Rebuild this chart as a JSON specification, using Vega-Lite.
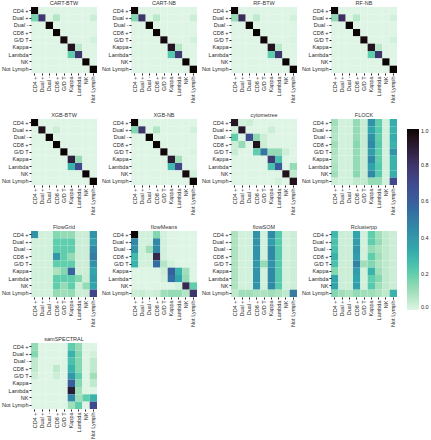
{
"$schema":"https://vega.github.io/schema/vega-lite/v6.json",
"padding":{"left":1,"top":0,"right":0,"bottom":0},
"background":"white",
"data":{"values":[
{"m":"CART-BTW","t":"CD4 +","p":"CD4 +","v":1},{"m":"CART-BTW","t":"CD4 +","p":"Dual +","v":0},{"m":"CART-BTW","t":"CD4 +","p":"Dual -","v":0},{"m":"CART-BTW","t":"CD4 +","p":"CD8 +","v":0},{"m":"CART-BTW","t":"CD4 +","p":"G/D T","v":0},{"m":"CART-BTW","t":"CD4 +","p":"Kappa","v":0},{"m":"CART-BTW","t":"CD4 +","p":"Lambda","v":0},{"m":"CART-BTW","t":"CD4 +","p":"NK","v":0},{"m":"CART-BTW","t":"CD4 +","p":"Not Lymph","v":0},
{"m":"CART-BTW","t":"Dual +","p":"CD4 +","v":0.17},{"m":"CART-BTW","t":"Dual +","p":"Dual +","v":0.78},{"m":"CART-BTW","t":"Dual +","p":"Dual -","v":0},{"m":"CART-BTW","t":"Dual +","p":"CD8 +","v":0.07},{"m":"CART-BTW","t":"Dual +","p":"G/D T","v":0},{"m":"CART-BTW","t":"Dual +","p":"Kappa","v":0},{"m":"CART-BTW","t":"Dual +","p":"Lambda","v":0},{"m":"CART-BTW","t":"Dual +","p":"NK","v":0},{"m":"CART-BTW","t":"Dual +","p":"Not Lymph","v":0.03},
{"m":"CART-BTW","t":"Dual -","p":"CD4 +","v":0},{"m":"CART-BTW","t":"Dual -","p":"Dual +","v":0},{"m":"CART-BTW","t":"Dual -","p":"Dual -","v":1},{"m":"CART-BTW","t":"Dual -","p":"CD8 +","v":0},{"m":"CART-BTW","t":"Dual -","p":"G/D T","v":0},{"m":"CART-BTW","t":"Dual -","p":"Kappa","v":0},{"m":"CART-BTW","t":"Dual -","p":"Lambda","v":0},{"m":"CART-BTW","t":"Dual -","p":"NK","v":0},{"m":"CART-BTW","t":"Dual -","p":"Not Lymph","v":0},
{"m":"CART-BTW","t":"CD8 +","p":"CD4 +","v":0},{"m":"CART-BTW","t":"CD8 +","p":"Dual +","v":0},{"m":"CART-BTW","t":"CD8 +","p":"Dual -","v":0},{"m":"CART-BTW","t":"CD8 +","p":"CD8 +","v":1},{"m":"CART-BTW","t":"CD8 +","p":"G/D T","v":0},{"m":"CART-BTW","t":"CD8 +","p":"Kappa","v":0},{"m":"CART-BTW","t":"CD8 +","p":"Lambda","v":0},{"m":"CART-BTW","t":"CD8 +","p":"NK","v":0},{"m":"CART-BTW","t":"CD8 +","p":"Not Lymph","v":0},
{"m":"CART-BTW","t":"G/D T","p":"CD4 +","v":0},{"m":"CART-BTW","t":"G/D T","p":"Dual +","v":0},{"m":"CART-BTW","t":"G/D T","p":"Dual -","v":0},{"m":"CART-BTW","t":"G/D T","p":"CD8 +","v":0},{"m":"CART-BTW","t":"G/D T","p":"G/D T","v":0.98},{"m":"CART-BTW","t":"G/D T","p":"Kappa","v":0},{"m":"CART-BTW","t":"G/D T","p":"Lambda","v":0},{"m":"CART-BTW","t":"G/D T","p":"NK","v":0},{"m":"CART-BTW","t":"G/D T","p":"Not Lymph","v":0.02},
{"m":"CART-BTW","t":"Kappa","p":"CD4 +","v":0},{"m":"CART-BTW","t":"Kappa","p":"Dual +","v":0},{"m":"CART-BTW","t":"Kappa","p":"Dual -","v":0},{"m":"CART-BTW","t":"Kappa","p":"CD8 +","v":0},{"m":"CART-BTW","t":"Kappa","p":"G/D T","v":0},{"m":"CART-BTW","t":"Kappa","p":"Kappa","v":0.94},{"m":"CART-BTW","t":"Kappa","p":"Lambda","v":0.06},{"m":"CART-BTW","t":"Kappa","p":"NK","v":0},{"m":"CART-BTW","t":"Kappa","p":"Not Lymph","v":0},
{"m":"CART-BTW","t":"Lambda","p":"CD4 +","v":0},{"m":"CART-BTW","t":"Lambda","p":"Dual +","v":0},{"m":"CART-BTW","t":"Lambda","p":"Dual -","v":0},{"m":"CART-BTW","t":"Lambda","p":"CD8 +","v":0},{"m":"CART-BTW","t":"Lambda","p":"G/D T","v":0},{"m":"CART-BTW","t":"Lambda","p":"Kappa","v":0.2},{"m":"CART-BTW","t":"Lambda","p":"Lambda","v":0.8},{"m":"CART-BTW","t":"Lambda","p":"NK","v":0},{"m":"CART-BTW","t":"Lambda","p":"Not Lymph","v":0},
{"m":"CART-BTW","t":"NK","p":"CD4 +","v":0},{"m":"CART-BTW","t":"NK","p":"Dual +","v":0},{"m":"CART-BTW","t":"NK","p":"Dual -","v":0},{"m":"CART-BTW","t":"NK","p":"CD8 +","v":0},{"m":"CART-BTW","t":"NK","p":"G/D T","v":0},{"m":"CART-BTW","t":"NK","p":"Kappa","v":0},{"m":"CART-BTW","t":"NK","p":"Lambda","v":0},{"m":"CART-BTW","t":"NK","p":"NK","v":1},{"m":"CART-BTW","t":"NK","p":"Not Lymph","v":0},
{"m":"CART-BTW","t":"Not Lymph","p":"CD4 +","v":0},{"m":"CART-BTW","t":"Not Lymph","p":"Dual +","v":0},{"m":"CART-BTW","t":"Not Lymph","p":"Dual -","v":0},{"m":"CART-BTW","t":"Not Lymph","p":"CD8 +","v":0},{"m":"CART-BTW","t":"Not Lymph","p":"G/D T","v":0},{"m":"CART-BTW","t":"Not Lymph","p":"Kappa","v":0},{"m":"CART-BTW","t":"Not Lymph","p":"Lambda","v":0},{"m":"CART-BTW","t":"Not Lymph","p":"NK","v":0},{"m":"CART-BTW","t":"Not Lymph","p":"Not Lymph","v":1},

{"m":"CART-NB","t":"CD4 +","p":"CD4 +","v":1},{"m":"CART-NB","t":"CD4 +","p":"Dual +","v":0},{"m":"CART-NB","t":"CD4 +","p":"Dual -","v":0},{"m":"CART-NB","t":"CD4 +","p":"CD8 +","v":0},{"m":"CART-NB","t":"CD4 +","p":"G/D T","v":0},{"m":"CART-NB","t":"CD4 +","p":"Kappa","v":0},{"m":"CART-NB","t":"CD4 +","p":"Lambda","v":0},{"m":"CART-NB","t":"CD4 +","p":"NK","v":0},{"m":"CART-NB","t":"CD4 +","p":"Not Lymph","v":0},
{"m":"CART-NB","t":"Dual +","p":"CD4 +","v":0.15},{"m":"CART-NB","t":"Dual +","p":"Dual +","v":0.8},{"m":"CART-NB","t":"Dual +","p":"Dual -","v":0},{"m":"CART-NB","t":"Dual +","p":"CD8 +","v":0.06},{"m":"CART-NB","t":"Dual +","p":"G/D T","v":0},{"m":"CART-NB","t":"Dual +","p":"Kappa","v":0},{"m":"CART-NB","t":"Dual +","p":"Lambda","v":0},{"m":"CART-NB","t":"Dual +","p":"NK","v":0},{"m":"CART-NB","t":"Dual +","p":"Not Lymph","v":0.03},
{"m":"CART-NB","t":"Dual -","p":"CD4 +","v":0},{"m":"CART-NB","t":"Dual -","p":"Dual +","v":0},{"m":"CART-NB","t":"Dual -","p":"Dual -","v":1},{"m":"CART-NB","t":"Dual -","p":"CD8 +","v":0},{"m":"CART-NB","t":"Dual -","p":"G/D T","v":0},{"m":"CART-NB","t":"Dual -","p":"Kappa","v":0},{"m":"CART-NB","t":"Dual -","p":"Lambda","v":0},{"m":"CART-NB","t":"Dual -","p":"NK","v":0},{"m":"CART-NB","t":"Dual -","p":"Not Lymph","v":0},
{"m":"CART-NB","t":"CD8 +","p":"CD4 +","v":0},{"m":"CART-NB","t":"CD8 +","p":"Dual +","v":0},{"m":"CART-NB","t":"CD8 +","p":"Dual -","v":0},{"m":"CART-NB","t":"CD8 +","p":"CD8 +","v":1},{"m":"CART-NB","t":"CD8 +","p":"G/D T","v":0},{"m":"CART-NB","t":"CD8 +","p":"Kappa","v":0},{"m":"CART-NB","t":"CD8 +","p":"Lambda","v":0},{"m":"CART-NB","t":"CD8 +","p":"NK","v":0},{"m":"CART-NB","t":"CD8 +","p":"Not Lymph","v":0},
{"m":"CART-NB","t":"G/D T","p":"CD4 +","v":0},{"m":"CART-NB","t":"G/D T","p":"Dual +","v":0},{"m":"CART-NB","t":"G/D T","p":"Dual -","v":0},{"m":"CART-NB","t":"G/D T","p":"CD8 +","v":0},{"m":"CART-NB","t":"G/D T","p":"G/D T","v":0.98},{"m":"CART-NB","t":"G/D T","p":"Kappa","v":0},{"m":"CART-NB","t":"G/D T","p":"Lambda","v":0},{"m":"CART-NB","t":"G/D T","p":"NK","v":0},{"m":"CART-NB","t":"G/D T","p":"Not Lymph","v":0.02},
{"m":"CART-NB","t":"Kappa","p":"CD4 +","v":0},{"m":"CART-NB","t":"Kappa","p":"Dual +","v":0},{"m":"CART-NB","t":"Kappa","p":"Dual -","v":0},{"m":"CART-NB","t":"Kappa","p":"CD8 +","v":0},{"m":"CART-NB","t":"Kappa","p":"G/D T","v":0},{"m":"CART-NB","t":"Kappa","p":"Kappa","v":0.93},{"m":"CART-NB","t":"Kappa","p":"Lambda","v":0.07},{"m":"CART-NB","t":"Kappa","p":"NK","v":0},{"m":"CART-NB","t":"Kappa","p":"Not Lymph","v":0},
{"m":"CART-NB","t":"Lambda","p":"CD4 +","v":0},{"m":"CART-NB","t":"Lambda","p":"Dual +","v":0},{"m":"CART-NB","t":"Lambda","p":"Dual -","v":0},{"m":"CART-NB","t":"Lambda","p":"CD8 +","v":0},{"m":"CART-NB","t":"Lambda","p":"G/D T","v":0},{"m":"CART-NB","t":"Lambda","p":"Kappa","v":0.22},{"m":"CART-NB","t":"Lambda","p":"Lambda","v":0.78},{"m":"CART-NB","t":"Lambda","p":"NK","v":0},{"m":"CART-NB","t":"Lambda","p":"Not Lymph","v":0},
{"m":"CART-NB","t":"NK","p":"CD4 +","v":0},{"m":"CART-NB","t":"NK","p":"Dual +","v":0},{"m":"CART-NB","t":"NK","p":"Dual -","v":0},{"m":"CART-NB","t":"NK","p":"CD8 +","v":0},{"m":"CART-NB","t":"NK","p":"G/D T","v":0},{"m":"CART-NB","t":"NK","p":"Kappa","v":0},{"m":"CART-NB","t":"NK","p":"Lambda","v":0},{"m":"CART-NB","t":"NK","p":"NK","v":1},{"m":"CART-NB","t":"NK","p":"Not Lymph","v":0},
{"m":"CART-NB","t":"Not Lymph","p":"CD4 +","v":0},{"m":"CART-NB","t":"Not Lymph","p":"Dual +","v":0},{"m":"CART-NB","t":"Not Lymph","p":"Dual -","v":0},{"m":"CART-NB","t":"Not Lymph","p":"CD8 +","v":0},{"m":"CART-NB","t":"Not Lymph","p":"G/D T","v":0},{"m":"CART-NB","t":"Not Lymph","p":"Kappa","v":0},{"m":"CART-NB","t":"Not Lymph","p":"Lambda","v":0},{"m":"CART-NB","t":"Not Lymph","p":"NK","v":0},{"m":"CART-NB","t":"Not Lymph","p":"Not Lymph","v":1},

{"m":"RF-BTW","t":"CD4 +","p":"CD4 +","v":1},{"m":"RF-BTW","t":"CD4 +","p":"Dual +","v":0},{"m":"RF-BTW","t":"CD4 +","p":"Dual -","v":0},{"m":"RF-BTW","t":"CD4 +","p":"CD8 +","v":0},{"m":"RF-BTW","t":"CD4 +","p":"G/D T","v":0},{"m":"RF-BTW","t":"CD4 +","p":"Kappa","v":0},{"m":"RF-BTW","t":"CD4 +","p":"Lambda","v":0},{"m":"RF-BTW","t":"CD4 +","p":"NK","v":0},{"m":"RF-BTW","t":"CD4 +","p":"Not Lymph","v":0},
{"m":"RF-BTW","t":"Dual +","p":"CD4 +","v":0.12},{"m":"RF-BTW","t":"Dual +","p":"Dual +","v":0.83},{"m":"RF-BTW","t":"Dual +","p":"Dual -","v":0},{"m":"RF-BTW","t":"Dual +","p":"CD8 +","v":0.05},{"m":"RF-BTW","t":"Dual +","p":"G/D T","v":0},{"m":"RF-BTW","t":"Dual +","p":"Kappa","v":0},{"m":"RF-BTW","t":"Dual +","p":"Lambda","v":0},{"m":"RF-BTW","t":"Dual +","p":"NK","v":0},{"m":"RF-BTW","t":"Dual +","p":"Not Lymph","v":0.02},
{"m":"RF-BTW","t":"Dual -","p":"CD4 +","v":0},{"m":"RF-BTW","t":"Dual -","p":"Dual +","v":0},{"m":"RF-BTW","t":"Dual -","p":"Dual -","v":1},{"m":"RF-BTW","t":"Dual -","p":"CD8 +","v":0},{"m":"RF-BTW","t":"Dual -","p":"G/D T","v":0},{"m":"RF-BTW","t":"Dual -","p":"Kappa","v":0},{"m":"RF-BTW","t":"Dual -","p":"Lambda","v":0},{"m":"RF-BTW","t":"Dual -","p":"NK","v":0},{"m":"RF-BTW","t":"Dual -","p":"Not Lymph","v":0},
{"m":"RF-BTW","t":"CD8 +","p":"CD4 +","v":0},{"m":"RF-BTW","t":"CD8 +","p":"Dual +","v":0},{"m":"RF-BTW","t":"CD8 +","p":"Dual -","v":0},{"m":"RF-BTW","t":"CD8 +","p":"CD8 +","v":1},{"m":"RF-BTW","t":"CD8 +","p":"G/D T","v":0},{"m":"RF-BTW","t":"CD8 +","p":"Kappa","v":0},{"m":"RF-BTW","t":"CD8 +","p":"Lambda","v":0},{"m":"RF-BTW","t":"CD8 +","p":"NK","v":0},{"m":"RF-BTW","t":"CD8 +","p":"Not Lymph","v":0},
{"m":"RF-BTW","t":"G/D T","p":"CD4 +","v":0},{"m":"RF-BTW","t":"G/D T","p":"Dual +","v":0},{"m":"RF-BTW","t":"G/D T","p":"Dual -","v":0},{"m":"RF-BTW","t":"G/D T","p":"CD8 +","v":0},{"m":"RF-BTW","t":"G/D T","p":"G/D T","v":0.99},{"m":"RF-BTW","t":"G/D T","p":"Kappa","v":0},{"m":"RF-BTW","t":"G/D T","p":"Lambda","v":0},{"m":"RF-BTW","t":"G/D T","p":"NK","v":0},{"m":"RF-BTW","t":"G/D T","p":"Not Lymph","v":0.01},
{"m":"RF-BTW","t":"Kappa","p":"CD4 +","v":0},{"m":"RF-BTW","t":"Kappa","p":"Dual +","v":0},{"m":"RF-BTW","t":"Kappa","p":"Dual -","v":0},{"m":"RF-BTW","t":"Kappa","p":"CD8 +","v":0},{"m":"RF-BTW","t":"Kappa","p":"G/D T","v":0},{"m":"RF-BTW","t":"Kappa","p":"Kappa","v":0.94},{"m":"RF-BTW","t":"Kappa","p":"Lambda","v":0.06},{"m":"RF-BTW","t":"Kappa","p":"NK","v":0},{"m":"RF-BTW","t":"Kappa","p":"Not Lymph","v":0},
{"m":"RF-BTW","t":"Lambda","p":"CD4 +","v":0},{"m":"RF-BTW","t":"Lambda","p":"Dual +","v":0},{"m":"RF-BTW","t":"Lambda","p":"Dual -","v":0},{"m":"RF-BTW","t":"Lambda","p":"CD8 +","v":0},{"m":"RF-BTW","t":"Lambda","p":"G/D T","v":0},{"m":"RF-BTW","t":"Lambda","p":"Kappa","v":0.2},{"m":"RF-BTW","t":"Lambda","p":"Lambda","v":0.8},{"m":"RF-BTW","t":"Lambda","p":"NK","v":0},{"m":"RF-BTW","t":"Lambda","p":"Not Lymph","v":0},
{"m":"RF-BTW","t":"NK","p":"CD4 +","v":0},{"m":"RF-BTW","t":"NK","p":"Dual +","v":0},{"m":"RF-BTW","t":"NK","p":"Dual -","v":0},{"m":"RF-BTW","t":"NK","p":"CD8 +","v":0},{"m":"RF-BTW","t":"NK","p":"G/D T","v":0},{"m":"RF-BTW","t":"NK","p":"Kappa","v":0},{"m":"RF-BTW","t":"NK","p":"Lambda","v":0},{"m":"RF-BTW","t":"NK","p":"NK","v":1},{"m":"RF-BTW","t":"NK","p":"Not Lymph","v":0},
{"m":"RF-BTW","t":"Not Lymph","p":"CD4 +","v":0},{"m":"RF-BTW","t":"Not Lymph","p":"Dual +","v":0},{"m":"RF-BTW","t":"Not Lymph","p":"Dual -","v":0},{"m":"RF-BTW","t":"Not Lymph","p":"CD8 +","v":0},{"m":"RF-BTW","t":"Not Lymph","p":"G/D T","v":0},{"m":"RF-BTW","t":"Not Lymph","p":"Kappa","v":0},{"m":"RF-BTW","t":"Not Lymph","p":"Lambda","v":0},{"m":"RF-BTW","t":"Not Lymph","p":"NK","v":0},{"m":"RF-BTW","t":"Not Lymph","p":"Not Lymph","v":1},

{"m":"RF-NB","t":"CD4 +","p":"CD4 +","v":1},{"m":"RF-NB","t":"CD4 +","p":"Dual +","v":0},{"m":"RF-NB","t":"CD4 +","p":"Dual -","v":0},{"m":"RF-NB","t":"CD4 +","p":"CD8 +","v":0},{"m":"RF-NB","t":"CD4 +","p":"G/D T","v":0},{"m":"RF-NB","t":"CD4 +","p":"Kappa","v":0},{"m":"RF-NB","t":"CD4 +","p":"Lambda","v":0},{"m":"RF-NB","t":"CD4 +","p":"NK","v":0},{"m":"RF-NB","t":"CD4 +","p":"Not Lymph","v":0},
{"m":"RF-NB","t":"Dual +","p":"CD4 +","v":0.13},{"m":"RF-NB","t":"Dual +","p":"Dual +","v":0.82},{"m":"RF-NB","t":"Dual +","p":"Dual -","v":0},{"m":"RF-NB","t":"Dual +","p":"CD8 +","v":0.06},{"m":"RF-NB","t":"Dual +","p":"G/D T","v":0},{"m":"RF-NB","t":"Dual +","p":"Kappa","v":0},{"m":"RF-NB","t":"Dual +","p":"Lambda","v":0},{"m":"RF-NB","t":"Dual +","p":"NK","v":0},{"m":"RF-NB","t":"Dual +","p":"Not Lymph","v":0.02},
{"m":"RF-NB","t":"Dual -","p":"CD4 +","v":0},{"m":"RF-NB","t":"Dual -","p":"Dual +","v":0},{"m":"RF-NB","t":"Dual -","p":"Dual -","v":1},{"m":"RF-NB","t":"Dual -","p":"CD8 +","v":0},{"m":"RF-NB","t":"Dual -","p":"G/D T","v":0},{"m":"RF-NB","t":"Dual -","p":"Kappa","v":0},{"m":"RF-NB","t":"Dual -","p":"Lambda","v":0},{"m":"RF-NB","t":"Dual -","p":"NK","v":0},{"m":"RF-NB","t":"Dual -","p":"Not Lymph","v":0},
{"m":"RF-NB","t":"CD8 +","p":"CD4 +","v":0},{"m":"RF-NB","t":"CD8 +","p":"Dual +","v":0},{"m":"RF-NB","t":"CD8 +","p":"Dual -","v":0},{"m":"RF-NB","t":"CD8 +","p":"CD8 +","v":1},{"m":"RF-NB","t":"CD8 +","p":"G/D T","v":0},{"m":"RF-NB","t":"CD8 +","p":"Kappa","v":0},{"m":"RF-NB","t":"CD8 +","p":"Lambda","v":0},{"m":"RF-NB","t":"CD8 +","p":"NK","v":0},{"m":"RF-NB","t":"CD8 +","p":"Not Lymph","v":0},
{"m":"RF-NB","t":"G/D T","p":"CD4 +","v":0},{"m":"RF-NB","t":"G/D T","p":"Dual +","v":0},{"m":"RF-NB","t":"G/D T","p":"Dual -","v":0},{"m":"RF-NB","t":"G/D T","p":"CD8 +","v":0},{"m":"RF-NB","t":"G/D T","p":"G/D T","v":0.98},{"m":"RF-NB","t":"G/D T","p":"Kappa","v":0},{"m":"RF-NB","t":"G/D T","p":"Lambda","v":0},{"m":"RF-NB","t":"G/D T","p":"NK","v":0},{"m":"RF-NB","t":"G/D T","p":"Not Lymph","v":0.02},
{"m":"RF-NB","t":"Kappa","p":"CD4 +","v":0},{"m":"RF-NB","t":"Kappa","p":"Dual +","v":0},{"m":"RF-NB","t":"Kappa","p":"Dual -","v":0},{"m":"RF-NB","t":"Kappa","p":"CD8 +","v":0},{"m":"RF-NB","t":"Kappa","p":"G/D T","v":0},{"m":"RF-NB","t":"Kappa","p":"Kappa","v":0.94},{"m":"RF-NB","t":"Kappa","p":"Lambda","v":0.06},{"m":"RF-NB","t":"Kappa","p":"NK","v":0},{"m":"RF-NB","t":"Kappa","p":"Not Lymph","v":0},
{"m":"RF-NB","t":"Lambda","p":"CD4 +","v":0},{"m":"RF-NB","t":"Lambda","p":"Dual +","v":0},{"m":"RF-NB","t":"Lambda","p":"Dual -","v":0},{"m":"RF-NB","t":"Lambda","p":"CD8 +","v":0},{"m":"RF-NB","t":"Lambda","p":"G/D T","v":0},{"m":"RF-NB","t":"Lambda","p":"Kappa","v":0.2},{"m":"RF-NB","t":"Lambda","p":"Lambda","v":0.8},{"m":"RF-NB","t":"Lambda","p":"NK","v":0},{"m":"RF-NB","t":"Lambda","p":"Not Lymph","v":0},
{"m":"RF-NB","t":"NK","p":"CD4 +","v":0},{"m":"RF-NB","t":"NK","p":"Dual +","v":0},{"m":"RF-NB","t":"NK","p":"Dual -","v":0},{"m":"RF-NB","t":"NK","p":"CD8 +","v":0},{"m":"RF-NB","t":"NK","p":"G/D T","v":0},{"m":"RF-NB","t":"NK","p":"Kappa","v":0},{"m":"RF-NB","t":"NK","p":"Lambda","v":0},{"m":"RF-NB","t":"NK","p":"NK","v":1},{"m":"RF-NB","t":"NK","p":"Not Lymph","v":0},
{"m":"RF-NB","t":"Not Lymph","p":"CD4 +","v":0},{"m":"RF-NB","t":"Not Lymph","p":"Dual +","v":0},{"m":"RF-NB","t":"Not Lymph","p":"Dual -","v":0},{"m":"RF-NB","t":"Not Lymph","p":"CD8 +","v":0},{"m":"RF-NB","t":"Not Lymph","p":"G/D T","v":0},{"m":"RF-NB","t":"Not Lymph","p":"Kappa","v":0},{"m":"RF-NB","t":"Not Lymph","p":"Lambda","v":0},{"m":"RF-NB","t":"Not Lymph","p":"NK","v":0},{"m":"RF-NB","t":"Not Lymph","p":"Not Lymph","v":1},

{"m":"XGB-BTW","t":"CD4 +","p":"CD4 +","v":1},{"m":"XGB-BTW","t":"CD4 +","p":"Dual +","v":0},{"m":"XGB-BTW","t":"CD4 +","p":"Dual -","v":0},{"m":"XGB-BTW","t":"CD4 +","p":"CD8 +","v":0},{"m":"XGB-BTW","t":"CD4 +","p":"G/D T","v":0},{"m":"XGB-BTW","t":"CD4 +","p":"Kappa","v":0},{"m":"XGB-BTW","t":"CD4 +","p":"Lambda","v":0},{"m":"XGB-BTW","t":"CD4 +","p":"NK","v":0},{"m":"XGB-BTW","t":"CD4 +","p":"Not Lymph","v":0},
{"m":"XGB-BTW","t":"Dual +","p":"CD4 +","v":0},{"m":"XGB-BTW","t":"Dual +","p":"Dual +","v":0.95},{"m":"XGB-BTW","t":"Dual +","p":"Dual -","v":0},{"m":"XGB-BTW","t":"Dual +","p":"CD8 +","v":0.03},{"m":"XGB-BTW","t":"Dual +","p":"G/D T","v":0},{"m":"XGB-BTW","t":"Dual +","p":"Kappa","v":0},{"m":"XGB-BTW","t":"Dual +","p":"Lambda","v":0},{"m":"XGB-BTW","t":"Dual +","p":"NK","v":0},{"m":"XGB-BTW","t":"Dual +","p":"Not Lymph","v":0},
{"m":"XGB-BTW","t":"Dual -","p":"CD4 +","v":0},{"m":"XGB-BTW","t":"Dual -","p":"Dual +","v":0},{"m":"XGB-BTW","t":"Dual -","p":"Dual -","v":1},{"m":"XGB-BTW","t":"Dual -","p":"CD8 +","v":0},{"m":"XGB-BTW","t":"Dual -","p":"G/D T","v":0},{"m":"XGB-BTW","t":"Dual -","p":"Kappa","v":0},{"m":"XGB-BTW","t":"Dual -","p":"Lambda","v":0},{"m":"XGB-BTW","t":"Dual -","p":"NK","v":0},{"m":"XGB-BTW","t":"Dual -","p":"Not Lymph","v":0},
{"m":"XGB-BTW","t":"CD8 +","p":"CD4 +","v":0},{"m":"XGB-BTW","t":"CD8 +","p":"Dual +","v":0},{"m":"XGB-BTW","t":"CD8 +","p":"Dual -","v":0},{"m":"XGB-BTW","t":"CD8 +","p":"CD8 +","v":1},{"m":"XGB-BTW","t":"CD8 +","p":"G/D T","v":0},{"m":"XGB-BTW","t":"CD8 +","p":"Kappa","v":0},{"m":"XGB-BTW","t":"CD8 +","p":"Lambda","v":0},{"m":"XGB-BTW","t":"CD8 +","p":"NK","v":0},{"m":"XGB-BTW","t":"CD8 +","p":"Not Lymph","v":0},
{"m":"XGB-BTW","t":"G/D T","p":"CD4 +","v":0},{"m":"XGB-BTW","t":"G/D T","p":"Dual +","v":0},{"m":"XGB-BTW","t":"G/D T","p":"Dual -","v":0},{"m":"XGB-BTW","t":"G/D T","p":"CD8 +","v":0},{"m":"XGB-BTW","t":"G/D T","p":"G/D T","v":1},{"m":"XGB-BTW","t":"G/D T","p":"Kappa","v":0},{"m":"XGB-BTW","t":"G/D T","p":"Lambda","v":0},{"m":"XGB-BTW","t":"G/D T","p":"NK","v":0},{"m":"XGB-BTW","t":"G/D T","p":"Not Lymph","v":0},
{"m":"XGB-BTW","t":"Kappa","p":"CD4 +","v":0},{"m":"XGB-BTW","t":"Kappa","p":"Dual +","v":0},{"m":"XGB-BTW","t":"Kappa","p":"Dual -","v":0},{"m":"XGB-BTW","t":"Kappa","p":"CD8 +","v":0},{"m":"XGB-BTW","t":"Kappa","p":"G/D T","v":0},{"m":"XGB-BTW","t":"Kappa","p":"Kappa","v":0.88},{"m":"XGB-BTW","t":"Kappa","p":"Lambda","v":0.12},{"m":"XGB-BTW","t":"Kappa","p":"NK","v":0},{"m":"XGB-BTW","t":"Kappa","p":"Not Lymph","v":0},
{"m":"XGB-BTW","t":"Lambda","p":"CD4 +","v":0},{"m":"XGB-BTW","t":"Lambda","p":"Dual +","v":0},{"m":"XGB-BTW","t":"Lambda","p":"Dual -","v":0},{"m":"XGB-BTW","t":"Lambda","p":"CD8 +","v":0},{"m":"XGB-BTW","t":"Lambda","p":"G/D T","v":0},{"m":"XGB-BTW","t":"Lambda","p":"Kappa","v":0.3},{"m":"XGB-BTW","t":"Lambda","p":"Lambda","v":0.7},{"m":"XGB-BTW","t":"Lambda","p":"NK","v":0},{"m":"XGB-BTW","t":"Lambda","p":"Not Lymph","v":0},
{"m":"XGB-BTW","t":"NK","p":"CD4 +","v":0},{"m":"XGB-BTW","t":"NK","p":"Dual +","v":0},{"m":"XGB-BTW","t":"NK","p":"Dual -","v":0},{"m":"XGB-BTW","t":"NK","p":"CD8 +","v":0},{"m":"XGB-BTW","t":"NK","p":"G/D T","v":0},{"m":"XGB-BTW","t":"NK","p":"Kappa","v":0},{"m":"XGB-BTW","t":"NK","p":"Lambda","v":0},{"m":"XGB-BTW","t":"NK","p":"NK","v":1},{"m":"XGB-BTW","t":"NK","p":"Not Lymph","v":0},
{"m":"XGB-BTW","t":"Not Lymph","p":"CD4 +","v":0},{"m":"XGB-BTW","t":"Not Lymph","p":"Dual +","v":0},{"m":"XGB-BTW","t":"Not Lymph","p":"Dual -","v":0},{"m":"XGB-BTW","t":"Not Lymph","p":"CD8 +","v":0},{"m":"XGB-BTW","t":"Not Lymph","p":"G/D T","v":0},{"m":"XGB-BTW","t":"Not Lymph","p":"Kappa","v":0},{"m":"XGB-BTW","t":"Not Lymph","p":"Lambda","v":0},{"m":"XGB-BTW","t":"Not Lymph","p":"NK","v":0},{"m":"XGB-BTW","t":"Not Lymph","p":"Not Lymph","v":1},

{"m":"XGB-NB","t":"CD4 +","p":"CD4 +","v":1},{"m":"XGB-NB","t":"CD4 +","p":"Dual +","v":0},{"m":"XGB-NB","t":"CD4 +","p":"Dual -","v":0},{"m":"XGB-NB","t":"CD4 +","p":"CD8 +","v":0},{"m":"XGB-NB","t":"CD4 +","p":"G/D T","v":0},{"m":"XGB-NB","t":"CD4 +","p":"Kappa","v":0},{"m":"XGB-NB","t":"CD4 +","p":"Lambda","v":0},{"m":"XGB-NB","t":"CD4 +","p":"NK","v":0},{"m":"XGB-NB","t":"CD4 +","p":"Not Lymph","v":0},
{"m":"XGB-NB","t":"Dual +","p":"CD4 +","v":0.15},{"m":"XGB-NB","t":"Dual +","p":"Dual +","v":0.8},{"m":"XGB-NB","t":"Dual +","p":"Dual -","v":0},{"m":"XGB-NB","t":"Dual +","p":"CD8 +","v":0.07},{"m":"XGB-NB","t":"Dual +","p":"G/D T","v":0},{"m":"XGB-NB","t":"Dual +","p":"Kappa","v":0},{"m":"XGB-NB","t":"Dual +","p":"Lambda","v":0},{"m":"XGB-NB","t":"Dual +","p":"NK","v":0},{"m":"XGB-NB","t":"Dual +","p":"Not Lymph","v":0.02},
{"m":"XGB-NB","t":"Dual -","p":"CD4 +","v":0},{"m":"XGB-NB","t":"Dual -","p":"Dual +","v":0},{"m":"XGB-NB","t":"Dual -","p":"Dual -","v":1},{"m":"XGB-NB","t":"Dual -","p":"CD8 +","v":0},{"m":"XGB-NB","t":"Dual -","p":"G/D T","v":0},{"m":"XGB-NB","t":"Dual -","p":"Kappa","v":0},{"m":"XGB-NB","t":"Dual -","p":"Lambda","v":0},{"m":"XGB-NB","t":"Dual -","p":"NK","v":0},{"m":"XGB-NB","t":"Dual -","p":"Not Lymph","v":0},
{"m":"XGB-NB","t":"CD8 +","p":"CD4 +","v":0},{"m":"XGB-NB","t":"CD8 +","p":"Dual +","v":0},{"m":"XGB-NB","t":"CD8 +","p":"Dual -","v":0},{"m":"XGB-NB","t":"CD8 +","p":"CD8 +","v":1},{"m":"XGB-NB","t":"CD8 +","p":"G/D T","v":0},{"m":"XGB-NB","t":"CD8 +","p":"Kappa","v":0},{"m":"XGB-NB","t":"CD8 +","p":"Lambda","v":0},{"m":"XGB-NB","t":"CD8 +","p":"NK","v":0},{"m":"XGB-NB","t":"CD8 +","p":"Not Lymph","v":0},
{"m":"XGB-NB","t":"G/D T","p":"CD4 +","v":0},{"m":"XGB-NB","t":"G/D T","p":"Dual +","v":0},{"m":"XGB-NB","t":"G/D T","p":"Dual -","v":0},{"m":"XGB-NB","t":"G/D T","p":"CD8 +","v":0},{"m":"XGB-NB","t":"G/D T","p":"G/D T","v":0.99},{"m":"XGB-NB","t":"G/D T","p":"Kappa","v":0},{"m":"XGB-NB","t":"G/D T","p":"Lambda","v":0},{"m":"XGB-NB","t":"G/D T","p":"NK","v":0},{"m":"XGB-NB","t":"G/D T","p":"Not Lymph","v":0.01},
{"m":"XGB-NB","t":"Kappa","p":"CD4 +","v":0},{"m":"XGB-NB","t":"Kappa","p":"Dual +","v":0},{"m":"XGB-NB","t":"Kappa","p":"Dual -","v":0},{"m":"XGB-NB","t":"Kappa","p":"CD8 +","v":0},{"m":"XGB-NB","t":"Kappa","p":"G/D T","v":0},{"m":"XGB-NB","t":"Kappa","p":"Kappa","v":0.9},{"m":"XGB-NB","t":"Kappa","p":"Lambda","v":0.1},{"m":"XGB-NB","t":"Kappa","p":"NK","v":0},{"m":"XGB-NB","t":"Kappa","p":"Not Lymph","v":0},
{"m":"XGB-NB","t":"Lambda","p":"CD4 +","v":0},{"m":"XGB-NB","t":"Lambda","p":"Dual +","v":0},{"m":"XGB-NB","t":"Lambda","p":"Dual -","v":0},{"m":"XGB-NB","t":"Lambda","p":"CD8 +","v":0},{"m":"XGB-NB","t":"Lambda","p":"G/D T","v":0},{"m":"XGB-NB","t":"Lambda","p":"Kappa","v":0.28},{"m":"XGB-NB","t":"Lambda","p":"Lambda","v":0.72},{"m":"XGB-NB","t":"Lambda","p":"NK","v":0},{"m":"XGB-NB","t":"Lambda","p":"Not Lymph","v":0},
{"m":"XGB-NB","t":"NK","p":"CD4 +","v":0},{"m":"XGB-NB","t":"NK","p":"Dual +","v":0},{"m":"XGB-NB","t":"NK","p":"Dual -","v":0},{"m":"XGB-NB","t":"NK","p":"CD8 +","v":0},{"m":"XGB-NB","t":"NK","p":"G/D T","v":0},{"m":"XGB-NB","t":"NK","p":"Kappa","v":0},{"m":"XGB-NB","t":"NK","p":"Lambda","v":0},{"m":"XGB-NB","t":"NK","p":"NK","v":0.98},{"m":"XGB-NB","t":"NK","p":"Not Lymph","v":0.02},
{"m":"XGB-NB","t":"Not Lymph","p":"CD4 +","v":0},{"m":"XGB-NB","t":"Not Lymph","p":"Dual +","v":0},{"m":"XGB-NB","t":"Not Lymph","p":"Dual -","v":0},{"m":"XGB-NB","t":"Not Lymph","p":"CD8 +","v":0},{"m":"XGB-NB","t":"Not Lymph","p":"G/D T","v":0},{"m":"XGB-NB","t":"Not Lymph","p":"Kappa","v":0},{"m":"XGB-NB","t":"Not Lymph","p":"Lambda","v":0},{"m":"XGB-NB","t":"Not Lymph","p":"NK","v":0},{"m":"XGB-NB","t":"Not Lymph","p":"Not Lymph","v":1},

{"m":"cytometree","t":"CD4 +","p":"CD4 +","v":0.93},{"m":"cytometree","t":"CD4 +","p":"Dual +","v":0.02},{"m":"cytometree","t":"CD4 +","p":"Dual -","v":0.03},{"m":"cytometree","t":"CD4 +","p":"CD8 +","v":0},{"m":"cytometree","t":"CD4 +","p":"G/D T","v":0},{"m":"cytometree","t":"CD4 +","p":"Kappa","v":0},{"m":"cytometree","t":"CD4 +","p":"Lambda","v":0},{"m":"cytometree","t":"CD4 +","p":"NK","v":0},{"m":"cytometree","t":"CD4 +","p":"Not Lymph","v":0},
{"m":"cytometree","t":"Dual +","p":"CD4 +","v":0.02},{"m":"cytometree","t":"Dual +","p":"Dual +","v":0.92},{"m":"cytometree","t":"Dual +","p":"Dual -","v":0},{"m":"cytometree","t":"Dual +","p":"CD8 +","v":0},{"m":"cytometree","t":"Dual +","p":"G/D T","v":0},{"m":"cytometree","t":"Dual +","p":"Kappa","v":0.03},{"m":"cytometree","t":"Dual +","p":"Lambda","v":0},{"m":"cytometree","t":"Dual +","p":"NK","v":0},{"m":"cytometree","t":"Dual +","p":"Not Lymph","v":0},
{"m":"cytometree","t":"Dual -","p":"CD4 +","v":0.2},{"m":"cytometree","t":"Dual -","p":"Dual +","v":0},{"m":"cytometree","t":"Dual -","p":"Dual -","v":0.68},{"m":"cytometree","t":"Dual -","p":"CD8 +","v":0.13},{"m":"cytometree","t":"Dual -","p":"G/D T","v":0.03},{"m":"cytometree","t":"Dual -","p":"Kappa","v":0},{"m":"cytometree","t":"Dual -","p":"Lambda","v":0},{"m":"cytometree","t":"Dual -","p":"NK","v":0},{"m":"cytometree","t":"Dual -","p":"Not Lymph","v":0},
{"m":"cytometree","t":"CD8 +","p":"CD4 +","v":0.03},{"m":"cytometree","t":"CD8 +","p":"Dual +","v":0.12},{"m":"cytometree","t":"CD8 +","p":"Dual -","v":0},{"m":"cytometree","t":"CD8 +","p":"CD8 +","v":0.95},{"m":"cytometree","t":"CD8 +","p":"G/D T","v":0.03},{"m":"cytometree","t":"CD8 +","p":"Kappa","v":0},{"m":"cytometree","t":"CD8 +","p":"Lambda","v":0},{"m":"cytometree","t":"CD8 +","p":"NK","v":0},{"m":"cytometree","t":"CD8 +","p":"Not Lymph","v":0},
{"m":"cytometree","t":"G/D T","p":"CD4 +","v":0.04},{"m":"cytometree","t":"G/D T","p":"Dual +","v":0},{"m":"cytometree","t":"G/D T","p":"Dual -","v":0},{"m":"cytometree","t":"G/D T","p":"CD8 +","v":0.2},{"m":"cytometree","t":"G/D T","p":"G/D T","v":0.52},{"m":"cytometree","t":"G/D T","p":"Kappa","v":0.12},{"m":"cytometree","t":"G/D T","p":"Lambda","v":0.12},{"m":"cytometree","t":"G/D T","p":"NK","v":0.03},{"m":"cytometree","t":"G/D T","p":"Not Lymph","v":0},
{"m":"cytometree","t":"Kappa","p":"CD4 +","v":0},{"m":"cytometree","t":"Kappa","p":"Dual +","v":0},{"m":"cytometree","t":"Kappa","p":"Dual -","v":0},{"m":"cytometree","t":"Kappa","p":"CD8 +","v":0},{"m":"cytometree","t":"Kappa","p":"G/D T","v":0},{"m":"cytometree","t":"Kappa","p":"Kappa","v":0.78},{"m":"cytometree","t":"Kappa","p":"Lambda","v":0.25},{"m":"cytometree","t":"Kappa","p":"NK","v":0},{"m":"cytometree","t":"Kappa","p":"Not Lymph","v":0},
{"m":"cytometree","t":"Lambda","p":"CD4 +","v":0},{"m":"cytometree","t":"Lambda","p":"Dual +","v":0},{"m":"cytometree","t":"Lambda","p":"Dual -","v":0},{"m":"cytometree","t":"Lambda","p":"CD8 +","v":0},{"m":"cytometree","t":"Lambda","p":"G/D T","v":0},{"m":"cytometree","t":"Lambda","p":"Kappa","v":0.25},{"m":"cytometree","t":"Lambda","p":"Lambda","v":0.62},{"m":"cytometree","t":"Lambda","p":"NK","v":0},{"m":"cytometree","t":"Lambda","p":"Not Lymph","v":0.12},
{"m":"cytometree","t":"NK","p":"CD4 +","v":0},{"m":"cytometree","t":"NK","p":"Dual +","v":0},{"m":"cytometree","t":"NK","p":"Dual -","v":0},{"m":"cytometree","t":"NK","p":"CD8 +","v":0},{"m":"cytometree","t":"NK","p":"G/D T","v":0},{"m":"cytometree","t":"NK","p":"Kappa","v":0},{"m":"cytometree","t":"NK","p":"Lambda","v":0},{"m":"cytometree","t":"NK","p":"NK","v":0.95},{"m":"cytometree","t":"NK","p":"Not Lymph","v":0.05},
{"m":"cytometree","t":"Not Lymph","p":"CD4 +","v":0},{"m":"cytometree","t":"Not Lymph","p":"Dual +","v":0},{"m":"cytometree","t":"Not Lymph","p":"Dual -","v":0},{"m":"cytometree","t":"Not Lymph","p":"CD8 +","v":0},{"m":"cytometree","t":"Not Lymph","p":"G/D T","v":0},{"m":"cytometree","t":"Not Lymph","p":"Kappa","v":0},{"m":"cytometree","t":"Not Lymph","p":"Lambda","v":0.02},{"m":"cytometree","t":"Not Lymph","p":"NK","v":0},{"m":"cytometree","t":"Not Lymph","p":"Not Lymph","v":0.95},

{"m":"FLOCK","t":"CD4 +","p":"CD4 +","v":0.1},{"m":"FLOCK","t":"CD4 +","p":"Dual +","v":0.02},{"m":"FLOCK","t":"CD4 +","p":"Dual -","v":0.02},{"m":"FLOCK","t":"CD4 +","p":"CD8 +","v":0.12},{"m":"FLOCK","t":"CD4 +","p":"G/D T","v":0.04},{"m":"FLOCK","t":"CD4 +","p":"Kappa","v":0.42},{"m":"FLOCK","t":"CD4 +","p":"Lambda","v":0.2},{"m":"FLOCK","t":"CD4 +","p":"NK","v":0.02},{"m":"FLOCK","t":"CD4 +","p":"Not Lymph","v":0.32},
{"m":"FLOCK","t":"Dual +","p":"CD4 +","v":0.08},{"m":"FLOCK","t":"Dual +","p":"Dual +","v":0.02},{"m":"FLOCK","t":"Dual +","p":"Dual -","v":0.02},{"m":"FLOCK","t":"Dual +","p":"CD8 +","v":0.12},{"m":"FLOCK","t":"Dual +","p":"G/D T","v":0.04},{"m":"FLOCK","t":"Dual +","p":"Kappa","v":0.35},{"m":"FLOCK","t":"Dual +","p":"Lambda","v":0.22},{"m":"FLOCK","t":"Dual +","p":"NK","v":0.02},{"m":"FLOCK","t":"Dual +","p":"Not Lymph","v":0.3},
{"m":"FLOCK","t":"Dual -","p":"CD4 +","v":0.07},{"m":"FLOCK","t":"Dual -","p":"Dual +","v":0.02},{"m":"FLOCK","t":"Dual -","p":"Dual -","v":0.02},{"m":"FLOCK","t":"Dual -","p":"CD8 +","v":0.12},{"m":"FLOCK","t":"Dual -","p":"G/D T","v":0.04},{"m":"FLOCK","t":"Dual -","p":"Kappa","v":0.42},{"m":"FLOCK","t":"Dual -","p":"Lambda","v":0.2},{"m":"FLOCK","t":"Dual -","p":"NK","v":0.02},{"m":"FLOCK","t":"Dual -","p":"Not Lymph","v":0.33},
{"m":"FLOCK","t":"CD8 +","p":"CD4 +","v":0.1},{"m":"FLOCK","t":"CD8 +","p":"Dual +","v":0.02},{"m":"FLOCK","t":"CD8 +","p":"Dual -","v":0.02},{"m":"FLOCK","t":"CD8 +","p":"CD8 +","v":0.14},{"m":"FLOCK","t":"CD8 +","p":"G/D T","v":0.04},{"m":"FLOCK","t":"CD8 +","p":"Kappa","v":0.45},{"m":"FLOCK","t":"CD8 +","p":"Lambda","v":0.22},{"m":"FLOCK","t":"CD8 +","p":"NK","v":0.02},{"m":"FLOCK","t":"CD8 +","p":"Not Lymph","v":0.3},
{"m":"FLOCK","t":"G/D T","p":"CD4 +","v":0.08},{"m":"FLOCK","t":"G/D T","p":"Dual +","v":0.02},{"m":"FLOCK","t":"G/D T","p":"Dual -","v":0.02},{"m":"FLOCK","t":"G/D T","p":"CD8 +","v":0.12},{"m":"FLOCK","t":"G/D T","p":"G/D T","v":0.04},{"m":"FLOCK","t":"G/D T","p":"Kappa","v":0.38},{"m":"FLOCK","t":"G/D T","p":"Lambda","v":0.2},{"m":"FLOCK","t":"G/D T","p":"NK","v":0.02},{"m":"FLOCK","t":"G/D T","p":"Not Lymph","v":0.42},
{"m":"FLOCK","t":"Kappa","p":"CD4 +","v":0.07},{"m":"FLOCK","t":"Kappa","p":"Dual +","v":0.02},{"m":"FLOCK","t":"Kappa","p":"Dual -","v":0.02},{"m":"FLOCK","t":"Kappa","p":"CD8 +","v":0.12},{"m":"FLOCK","t":"Kappa","p":"G/D T","v":0.04},{"m":"FLOCK","t":"Kappa","p":"Kappa","v":0.45},{"m":"FLOCK","t":"Kappa","p":"Lambda","v":0.2},{"m":"FLOCK","t":"Kappa","p":"NK","v":0.02},{"m":"FLOCK","t":"Kappa","p":"Not Lymph","v":0.3},
{"m":"FLOCK","t":"Lambda","p":"CD4 +","v":0.08},{"m":"FLOCK","t":"Lambda","p":"Dual +","v":0.02},{"m":"FLOCK","t":"Lambda","p":"Dual -","v":0.02},{"m":"FLOCK","t":"Lambda","p":"CD8 +","v":0.12},{"m":"FLOCK","t":"Lambda","p":"G/D T","v":0.04},{"m":"FLOCK","t":"Lambda","p":"Kappa","v":0.36},{"m":"FLOCK","t":"Lambda","p":"Lambda","v":0.22},{"m":"FLOCK","t":"Lambda","p":"NK","v":0.02},{"m":"FLOCK","t":"Lambda","p":"Not Lymph","v":0.3},
{"m":"FLOCK","t":"NK","p":"CD4 +","v":0.1},{"m":"FLOCK","t":"NK","p":"Dual +","v":0.02},{"m":"FLOCK","t":"NK","p":"Dual -","v":0.02},{"m":"FLOCK","t":"NK","p":"CD8 +","v":0.14},{"m":"FLOCK","t":"NK","p":"G/D T","v":0.04},{"m":"FLOCK","t":"NK","p":"Kappa","v":0.45},{"m":"FLOCK","t":"NK","p":"Lambda","v":0.22},{"m":"FLOCK","t":"NK","p":"NK","v":0.02},{"m":"FLOCK","t":"NK","p":"Not Lymph","v":0.32},
{"m":"FLOCK","t":"Not Lymph","p":"CD4 +","v":0.03},{"m":"FLOCK","t":"Not Lymph","p":"Dual +","v":0.02},{"m":"FLOCK","t":"Not Lymph","p":"Dual -","v":0.02},{"m":"FLOCK","t":"Not Lymph","p":"CD8 +","v":0.05},{"m":"FLOCK","t":"Not Lymph","p":"G/D T","v":0.05},{"m":"FLOCK","t":"Not Lymph","p":"Kappa","v":0.12},{"m":"FLOCK","t":"Not Lymph","p":"Lambda","v":0.12},{"m":"FLOCK","t":"Not Lymph","p":"NK","v":0.02},{"m":"FLOCK","t":"Not Lymph","p":"Not Lymph","v":0.7},

{"m":"FlowGrid","t":"CD4 +","p":"CD4 +","v":0.42},{"m":"FlowGrid","t":"CD4 +","p":"Dual +","v":0.02},{"m":"FlowGrid","t":"CD4 +","p":"Dual -","v":0.02},{"m":"FlowGrid","t":"CD4 +","p":"CD8 +","v":0.15},{"m":"FlowGrid","t":"CD4 +","p":"G/D T","v":0.12},{"m":"FlowGrid","t":"CD4 +","p":"Kappa","v":0.12},{"m":"FlowGrid","t":"CD4 +","p":"Lambda","v":0.03},{"m":"FlowGrid","t":"CD4 +","p":"NK","v":0.03},{"m":"FlowGrid","t":"CD4 +","p":"Not Lymph","v":0.42},
{"m":"FlowGrid","t":"Dual +","p":"CD4 +","v":0.02},{"m":"FlowGrid","t":"Dual +","p":"Dual +","v":0.02},{"m":"FlowGrid","t":"Dual +","p":"Dual -","v":0.02},{"m":"FlowGrid","t":"Dual +","p":"CD8 +","v":0.2},{"m":"FlowGrid","t":"Dual +","p":"G/D T","v":0.2},{"m":"FlowGrid","t":"Dual +","p":"Kappa","v":0.2},{"m":"FlowGrid","t":"Dual +","p":"Lambda","v":0.03},{"m":"FlowGrid","t":"Dual +","p":"NK","v":0.03},{"m":"FlowGrid","t":"Dual +","p":"Not Lymph","v":0.38},
{"m":"FlowGrid","t":"Dual -","p":"CD4 +","v":0.02},{"m":"FlowGrid","t":"Dual -","p":"Dual +","v":0.02},{"m":"FlowGrid","t":"Dual -","p":"Dual -","v":0.02},{"m":"FlowGrid","t":"Dual -","p":"CD8 +","v":0.2},{"m":"FlowGrid","t":"Dual -","p":"G/D T","v":0.2},{"m":"FlowGrid","t":"Dual -","p":"Kappa","v":0.2},{"m":"FlowGrid","t":"Dual -","p":"Lambda","v":0.03},{"m":"FlowGrid","t":"Dual -","p":"NK","v":0.03},{"m":"FlowGrid","t":"Dual -","p":"Not Lymph","v":0.45},
{"m":"FlowGrid","t":"CD8 +","p":"CD4 +","v":0.02},{"m":"FlowGrid","t":"CD8 +","p":"Dual +","v":0.02},{"m":"FlowGrid","t":"CD8 +","p":"Dual -","v":0.02},{"m":"FlowGrid","t":"CD8 +","p":"CD8 +","v":0.4},{"m":"FlowGrid","t":"CD8 +","p":"G/D T","v":0.2},{"m":"FlowGrid","t":"CD8 +","p":"Kappa","v":0.12},{"m":"FlowGrid","t":"CD8 +","p":"Lambda","v":0.03},{"m":"FlowGrid","t":"CD8 +","p":"NK","v":0.03},{"m":"FlowGrid","t":"CD8 +","p":"Not Lymph","v":0.5},
{"m":"FlowGrid","t":"G/D T","p":"CD4 +","v":0.02},{"m":"FlowGrid","t":"G/D T","p":"Dual +","v":0.02},{"m":"FlowGrid","t":"G/D T","p":"Dual -","v":0.02},{"m":"FlowGrid","t":"G/D T","p":"CD8 +","v":0.2},{"m":"FlowGrid","t":"G/D T","p":"G/D T","v":0.2},{"m":"FlowGrid","t":"G/D T","p":"Kappa","v":0.2},{"m":"FlowGrid","t":"G/D T","p":"Lambda","v":0.03},{"m":"FlowGrid","t":"G/D T","p":"NK","v":0.03},{"m":"FlowGrid","t":"G/D T","p":"Not Lymph","v":0.42},
{"m":"FlowGrid","t":"Kappa","p":"CD4 +","v":0.02},{"m":"FlowGrid","t":"Kappa","p":"Dual +","v":0.02},{"m":"FlowGrid","t":"Kappa","p":"Dual -","v":0.02},{"m":"FlowGrid","t":"Kappa","p":"CD8 +","v":0.08},{"m":"FlowGrid","t":"Kappa","p":"G/D T","v":0.15},{"m":"FlowGrid","t":"Kappa","p":"Kappa","v":0.58},{"m":"FlowGrid","t":"Kappa","p":"Lambda","v":0.03},{"m":"FlowGrid","t":"Kappa","p":"NK","v":0.03},{"m":"FlowGrid","t":"Kappa","p":"Not Lymph","v":0.35},
{"m":"FlowGrid","t":"Lambda","p":"CD4 +","v":0.02},{"m":"FlowGrid","t":"Lambda","p":"Dual +","v":0.02},{"m":"FlowGrid","t":"Lambda","p":"Dual -","v":0.02},{"m":"FlowGrid","t":"Lambda","p":"CD8 +","v":0.2},{"m":"FlowGrid","t":"Lambda","p":"G/D T","v":0.2},{"m":"FlowGrid","t":"Lambda","p":"Kappa","v":0.2},{"m":"FlowGrid","t":"Lambda","p":"Lambda","v":0.15},{"m":"FlowGrid","t":"Lambda","p":"NK","v":0.03},{"m":"FlowGrid","t":"Lambda","p":"Not Lymph","v":0.38},
{"m":"FlowGrid","t":"NK","p":"CD4 +","v":0.02},{"m":"FlowGrid","t":"NK","p":"Dual +","v":0.02},{"m":"FlowGrid","t":"NK","p":"Dual -","v":0.02},{"m":"FlowGrid","t":"NK","p":"CD8 +","v":0.2},{"m":"FlowGrid","t":"NK","p":"G/D T","v":0.12},{"m":"FlowGrid","t":"NK","p":"Kappa","v":0.2},{"m":"FlowGrid","t":"NK","p":"Lambda","v":0.03},{"m":"FlowGrid","t":"NK","p":"NK","v":0.12},{"m":"FlowGrid","t":"NK","p":"Not Lymph","v":0.35},
{"m":"FlowGrid","t":"Not Lymph","p":"CD4 +","v":0.02},{"m":"FlowGrid","t":"Not Lymph","p":"Dual +","v":0.02},{"m":"FlowGrid","t":"Not Lymph","p":"Dual -","v":0.02},{"m":"FlowGrid","t":"Not Lymph","p":"CD8 +","v":0.12},{"m":"FlowGrid","t":"Not Lymph","p":"G/D T","v":0.1},{"m":"FlowGrid","t":"Not Lymph","p":"Kappa","v":0.12},{"m":"FlowGrid","t":"Not Lymph","p":"Lambda","v":0.03},{"m":"FlowGrid","t":"Not Lymph","p":"NK","v":0.03},{"m":"FlowGrid","t":"Not Lymph","p":"Not Lymph","v":0.72},

{"m":"flowMeans","t":"CD4 +","p":"CD4 +","v":1},{"m":"flowMeans","t":"CD4 +","p":"Dual +","v":0.02},{"m":"flowMeans","t":"CD4 +","p":"Dual -","v":0.02},{"m":"flowMeans","t":"CD4 +","p":"CD8 +","v":0.15},{"m":"flowMeans","t":"CD4 +","p":"G/D T","v":0.02},{"m":"flowMeans","t":"CD4 +","p":"Kappa","v":0},{"m":"flowMeans","t":"CD4 +","p":"Lambda","v":0},{"m":"flowMeans","t":"CD4 +","p":"NK","v":0},{"m":"flowMeans","t":"CD4 +","p":"Not Lymph","v":0},
{"m":"flowMeans","t":"Dual +","p":"CD4 +","v":0.45},{"m":"flowMeans","t":"Dual +","p":"Dual +","v":0.02},{"m":"flowMeans","t":"Dual +","p":"Dual -","v":0.02},{"m":"flowMeans","t":"Dual +","p":"CD8 +","v":0.45},{"m":"flowMeans","t":"Dual +","p":"G/D T","v":0.02},{"m":"flowMeans","t":"Dual +","p":"Kappa","v":0},{"m":"flowMeans","t":"Dual +","p":"Lambda","v":0},{"m":"flowMeans","t":"Dual +","p":"NK","v":0},{"m":"flowMeans","t":"Dual +","p":"Not Lymph","v":0},
{"m":"flowMeans","t":"Dual -","p":"CD4 +","v":0.42},{"m":"flowMeans","t":"Dual -","p":"Dual +","v":0.02},{"m":"flowMeans","t":"Dual -","p":"Dual -","v":0.1},{"m":"flowMeans","t":"Dual -","p":"CD8 +","v":0.45},{"m":"flowMeans","t":"Dual -","p":"G/D T","v":0.02},{"m":"flowMeans","t":"Dual -","p":"Kappa","v":0},{"m":"flowMeans","t":"Dual -","p":"Lambda","v":0},{"m":"flowMeans","t":"Dual -","p":"NK","v":0},{"m":"flowMeans","t":"Dual -","p":"Not Lymph","v":0},
{"m":"flowMeans","t":"CD8 +","p":"CD4 +","v":0.28},{"m":"flowMeans","t":"CD8 +","p":"Dual +","v":0.02},{"m":"flowMeans","t":"CD8 +","p":"Dual -","v":0.02},{"m":"flowMeans","t":"CD8 +","p":"CD8 +","v":0.85},{"m":"flowMeans","t":"CD8 +","p":"G/D T","v":0.02},{"m":"flowMeans","t":"CD8 +","p":"Kappa","v":0},{"m":"flowMeans","t":"CD8 +","p":"Lambda","v":0},{"m":"flowMeans","t":"CD8 +","p":"NK","v":0},{"m":"flowMeans","t":"CD8 +","p":"Not Lymph","v":0},
{"m":"flowMeans","t":"G/D T","p":"CD4 +","v":0.3},{"m":"flowMeans","t":"G/D T","p":"Dual +","v":0.02},{"m":"flowMeans","t":"G/D T","p":"Dual -","v":0.02},{"m":"flowMeans","t":"G/D T","p":"CD8 +","v":0.55},{"m":"flowMeans","t":"G/D T","p":"G/D T","v":0.07},{"m":"flowMeans","t":"G/D T","p":"Kappa","v":0.02},{"m":"flowMeans","t":"G/D T","p":"Lambda","v":0},{"m":"flowMeans","t":"G/D T","p":"NK","v":0},{"m":"flowMeans","t":"G/D T","p":"Not Lymph","v":0},
{"m":"flowMeans","t":"Kappa","p":"CD4 +","v":0},{"m":"flowMeans","t":"Kappa","p":"Dual +","v":0},{"m":"flowMeans","t":"Kappa","p":"Dual -","v":0},{"m":"flowMeans","t":"Kappa","p":"CD8 +","v":0},{"m":"flowMeans","t":"Kappa","p":"G/D T","v":0.03},{"m":"flowMeans","t":"Kappa","p":"Kappa","v":0.6},{"m":"flowMeans","t":"Kappa","p":"Lambda","v":0.3},{"m":"flowMeans","t":"Kappa","p":"NK","v":0.1},{"m":"flowMeans","t":"Kappa","p":"Not Lymph","v":0},
{"m":"flowMeans","t":"Lambda","p":"CD4 +","v":0},{"m":"flowMeans","t":"Lambda","p":"Dual +","v":0},{"m":"flowMeans","t":"Lambda","p":"Dual -","v":0},{"m":"flowMeans","t":"Lambda","p":"CD8 +","v":0},{"m":"flowMeans","t":"Lambda","p":"G/D T","v":0.02},{"m":"flowMeans","t":"Lambda","p":"Kappa","v":0.55},{"m":"flowMeans","t":"Lambda","p":"Lambda","v":0.35},{"m":"flowMeans","t":"Lambda","p":"NK","v":0.12},{"m":"flowMeans","t":"Lambda","p":"Not Lymph","v":0},
{"m":"flowMeans","t":"NK","p":"CD4 +","v":0},{"m":"flowMeans","t":"NK","p":"Dual +","v":0},{"m":"flowMeans","t":"NK","p":"Dual -","v":0},{"m":"flowMeans","t":"NK","p":"CD8 +","v":0},{"m":"flowMeans","t":"NK","p":"G/D T","v":0},{"m":"flowMeans","t":"NK","p":"Kappa","v":0},{"m":"flowMeans","t":"NK","p":"Lambda","v":0.02},{"m":"flowMeans","t":"NK","p":"NK","v":0.85},{"m":"flowMeans","t":"NK","p":"Not Lymph","v":0.2},
{"m":"flowMeans","t":"Not Lymph","p":"CD4 +","v":0.03},{"m":"flowMeans","t":"Not Lymph","p":"Dual +","v":0.04},{"m":"flowMeans","t":"Not Lymph","p":"Dual -","v":0.02},{"m":"flowMeans","t":"Not Lymph","p":"CD8 +","v":0.03},{"m":"flowMeans","t":"Not Lymph","p":"G/D T","v":0.1},{"m":"flowMeans","t":"Not Lymph","p":"Kappa","v":0.12},{"m":"flowMeans","t":"Not Lymph","p":"Lambda","v":0.12},{"m":"flowMeans","t":"Not Lymph","p":"NK","v":0.07},{"m":"flowMeans","t":"Not Lymph","p":"Not Lymph","v":0.8},

{"m":"flowSOM","t":"CD4 +","p":"CD4 +","v":0.08},{"m":"flowSOM","t":"CD4 +","p":"Dual +","v":0.02},{"m":"flowSOM","t":"CD4 +","p":"Dual -","v":0.02},{"m":"flowSOM","t":"CD4 +","p":"CD8 +","v":0.42},{"m":"flowSOM","t":"CD4 +","p":"G/D T","v":0.02},{"m":"flowSOM","t":"CD4 +","p":"Kappa","v":0.45},{"m":"flowSOM","t":"CD4 +","p":"Lambda","v":0.22},{"m":"flowSOM","t":"CD4 +","p":"NK","v":0.02},{"m":"flowSOM","t":"CD4 +","p":"Not Lymph","v":0.03},
{"m":"flowSOM","t":"Dual +","p":"CD4 +","v":0.08},{"m":"flowSOM","t":"Dual +","p":"Dual +","v":0.02},{"m":"flowSOM","t":"Dual +","p":"Dual -","v":0.02},{"m":"flowSOM","t":"Dual +","p":"CD8 +","v":0.42},{"m":"flowSOM","t":"Dual +","p":"G/D T","v":0.02},{"m":"flowSOM","t":"Dual +","p":"Kappa","v":0.38},{"m":"flowSOM","t":"Dual +","p":"Lambda","v":0.22},{"m":"flowSOM","t":"Dual +","p":"NK","v":0.02},{"m":"flowSOM","t":"Dual +","p":"Not Lymph","v":0.03},
{"m":"flowSOM","t":"Dual -","p":"CD4 +","v":0.08},{"m":"flowSOM","t":"Dual -","p":"Dual +","v":0.02},{"m":"flowSOM","t":"Dual -","p":"Dual -","v":0.02},{"m":"flowSOM","t":"Dual -","p":"CD8 +","v":0.42},{"m":"flowSOM","t":"Dual -","p":"G/D T","v":0.02},{"m":"flowSOM","t":"Dual -","p":"Kappa","v":0.45},{"m":"flowSOM","t":"Dual -","p":"Lambda","v":0.22},{"m":"flowSOM","t":"Dual -","p":"NK","v":0.02},{"m":"flowSOM","t":"Dual -","p":"Not Lymph","v":0.03},
{"m":"flowSOM","t":"CD8 +","p":"CD4 +","v":0.08},{"m":"flowSOM","t":"CD8 +","p":"Dual +","v":0.02},{"m":"flowSOM","t":"CD8 +","p":"Dual -","v":0.02},{"m":"flowSOM","t":"CD8 +","p":"CD8 +","v":0.42},{"m":"flowSOM","t":"CD8 +","p":"G/D T","v":0.02},{"m":"flowSOM","t":"CD8 +","p":"Kappa","v":0.45},{"m":"flowSOM","t":"CD8 +","p":"Lambda","v":0.22},{"m":"flowSOM","t":"CD8 +","p":"NK","v":0.02},{"m":"flowSOM","t":"CD8 +","p":"Not Lymph","v":0.03},
{"m":"flowSOM","t":"G/D T","p":"CD4 +","v":0.08},{"m":"flowSOM","t":"G/D T","p":"Dual +","v":0.02},{"m":"flowSOM","t":"G/D T","p":"Dual -","v":0.02},{"m":"flowSOM","t":"G/D T","p":"CD8 +","v":0.4},{"m":"flowSOM","t":"G/D T","p":"G/D T","v":0.12},{"m":"flowSOM","t":"G/D T","p":"Kappa","v":0.42},{"m":"flowSOM","t":"G/D T","p":"Lambda","v":0.22},{"m":"flowSOM","t":"G/D T","p":"NK","v":0.02},{"m":"flowSOM","t":"G/D T","p":"Not Lymph","v":0.03},
{"m":"flowSOM","t":"Kappa","p":"CD4 +","v":0.08},{"m":"flowSOM","t":"Kappa","p":"Dual +","v":0.02},{"m":"flowSOM","t":"Kappa","p":"Dual -","v":0.02},{"m":"flowSOM","t":"Kappa","p":"CD8 +","v":0.42},{"m":"flowSOM","t":"Kappa","p":"G/D T","v":0.02},{"m":"flowSOM","t":"Kappa","p":"Kappa","v":0.45},{"m":"flowSOM","t":"Kappa","p":"Lambda","v":0.22},{"m":"flowSOM","t":"Kappa","p":"NK","v":0.02},{"m":"flowSOM","t":"Kappa","p":"Not Lymph","v":0.03},
{"m":"flowSOM","t":"Lambda","p":"CD4 +","v":0.08},{"m":"flowSOM","t":"Lambda","p":"Dual +","v":0.02},{"m":"flowSOM","t":"Lambda","p":"Dual -","v":0.02},{"m":"flowSOM","t":"Lambda","p":"CD8 +","v":0.42},{"m":"flowSOM","t":"Lambda","p":"G/D T","v":0.02},{"m":"flowSOM","t":"Lambda","p":"Kappa","v":0.45},{"m":"flowSOM","t":"Lambda","p":"Lambda","v":0.22},{"m":"flowSOM","t":"Lambda","p":"NK","v":0.02},{"m":"flowSOM","t":"Lambda","p":"Not Lymph","v":0.03},
{"m":"flowSOM","t":"NK","p":"CD4 +","v":0.08},{"m":"flowSOM","t":"NK","p":"Dual +","v":0.02},{"m":"flowSOM","t":"NK","p":"Dual -","v":0.02},{"m":"flowSOM","t":"NK","p":"CD8 +","v":0.42},{"m":"flowSOM","t":"NK","p":"G/D T","v":0.02},{"m":"flowSOM","t":"NK","p":"Kappa","v":0.45},{"m":"flowSOM","t":"NK","p":"Lambda","v":0.22},{"m":"flowSOM","t":"NK","p":"NK","v":0.02},{"m":"flowSOM","t":"NK","p":"Not Lymph","v":0.03},
{"m":"flowSOM","t":"Not Lymph","p":"CD4 +","v":0.05},{"m":"flowSOM","t":"Not Lymph","p":"Dual +","v":0.1},{"m":"flowSOM","t":"Not Lymph","p":"Dual -","v":0.1},{"m":"flowSOM","t":"Not Lymph","p":"CD8 +","v":0.08},{"m":"flowSOM","t":"Not Lymph","p":"G/D T","v":0.08},{"m":"flowSOM","t":"Not Lymph","p":"Kappa","v":0.1},{"m":"flowSOM","t":"Not Lymph","p":"Lambda","v":0.08},{"m":"flowSOM","t":"Not Lymph","p":"NK","v":0.05},{"m":"flowSOM","t":"Not Lymph","p":"Not Lymph","v":0.5},

{"m":"Rclusterpp","t":"CD4 +","p":"CD4 +","v":0.28},{"m":"Rclusterpp","t":"CD4 +","p":"Dual +","v":0.03},{"m":"Rclusterpp","t":"CD4 +","p":"Dual -","v":0.03},{"m":"Rclusterpp","t":"CD4 +","p":"CD8 +","v":0.35},{"m":"Rclusterpp","t":"CD4 +","p":"G/D T","v":0.02},{"m":"Rclusterpp","t":"CD4 +","p":"Kappa","v":0.2},{"m":"Rclusterpp","t":"CD4 +","p":"Lambda","v":0.1},{"m":"Rclusterpp","t":"CD4 +","p":"NK","v":0.05},{"m":"Rclusterpp","t":"CD4 +","p":"Not Lymph","v":0.03},
{"m":"Rclusterpp","t":"Dual +","p":"CD4 +","v":0.25},{"m":"Rclusterpp","t":"Dual +","p":"Dual +","v":0.03},{"m":"Rclusterpp","t":"Dual +","p":"Dual -","v":0.03},{"m":"Rclusterpp","t":"Dual +","p":"CD8 +","v":0.38},{"m":"Rclusterpp","t":"Dual +","p":"G/D T","v":0.02},{"m":"Rclusterpp","t":"Dual +","p":"Kappa","v":0.2},{"m":"Rclusterpp","t":"Dual +","p":"Lambda","v":0.12},{"m":"Rclusterpp","t":"Dual +","p":"NK","v":0.05},{"m":"Rclusterpp","t":"Dual +","p":"Not Lymph","v":0.03},
{"m":"Rclusterpp","t":"Dual -","p":"CD4 +","v":0.25},{"m":"Rclusterpp","t":"Dual -","p":"Dual +","v":0.03},{"m":"Rclusterpp","t":"Dual -","p":"Dual -","v":0.03},{"m":"Rclusterpp","t":"Dual -","p":"CD8 +","v":0.4},{"m":"Rclusterpp","t":"Dual -","p":"G/D T","v":0.02},{"m":"Rclusterpp","t":"Dual -","p":"Kappa","v":0.12},{"m":"Rclusterpp","t":"Dual -","p":"Lambda","v":0.08},{"m":"Rclusterpp","t":"Dual -","p":"NK","v":0.05},{"m":"Rclusterpp","t":"Dual -","p":"Not Lymph","v":0.03},
{"m":"Rclusterpp","t":"CD8 +","p":"CD4 +","v":0.3},{"m":"Rclusterpp","t":"CD8 +","p":"Dual +","v":0.03},{"m":"Rclusterpp","t":"CD8 +","p":"Dual -","v":0.03},{"m":"Rclusterpp","t":"CD8 +","p":"CD8 +","v":0.38},{"m":"Rclusterpp","t":"CD8 +","p":"G/D T","v":0.02},{"m":"Rclusterpp","t":"CD8 +","p":"Kappa","v":0.2},{"m":"Rclusterpp","t":"CD8 +","p":"Lambda","v":0.1},{"m":"Rclusterpp","t":"CD8 +","p":"NK","v":0.05},{"m":"Rclusterpp","t":"CD8 +","p":"Not Lymph","v":0.03},
{"m":"Rclusterpp","t":"G/D T","p":"CD4 +","v":0.25},{"m":"Rclusterpp","t":"G/D T","p":"Dual +","v":0.03},{"m":"Rclusterpp","t":"G/D T","p":"Dual -","v":0.03},{"m":"Rclusterpp","t":"G/D T","p":"CD8 +","v":0.48},{"m":"Rclusterpp","t":"G/D T","p":"G/D T","v":0.1},{"m":"Rclusterpp","t":"G/D T","p":"Kappa","v":0.15},{"m":"Rclusterpp","t":"G/D T","p":"Lambda","v":0.08},{"m":"Rclusterpp","t":"G/D T","p":"NK","v":0.05},{"m":"Rclusterpp","t":"G/D T","p":"Not Lymph","v":0.03},
{"m":"Rclusterpp","t":"Kappa","p":"CD4 +","v":0.15},{"m":"Rclusterpp","t":"Kappa","p":"Dual +","v":0.03},{"m":"Rclusterpp","t":"Kappa","p":"Dual -","v":0.03},{"m":"Rclusterpp","t":"Kappa","p":"CD8 +","v":0.38},{"m":"Rclusterpp","t":"Kappa","p":"G/D T","v":0.02},{"m":"Rclusterpp","t":"Kappa","p":"Kappa","v":0.3},{"m":"Rclusterpp","t":"Kappa","p":"Lambda","v":0.1},{"m":"Rclusterpp","t":"Kappa","p":"NK","v":0.05},{"m":"Rclusterpp","t":"Kappa","p":"Not Lymph","v":0.03},
{"m":"Rclusterpp","t":"Lambda","p":"CD4 +","v":0.35},{"m":"Rclusterpp","t":"Lambda","p":"Dual +","v":0.03},{"m":"Rclusterpp","t":"Lambda","p":"Dual -","v":0.03},{"m":"Rclusterpp","t":"Lambda","p":"CD8 +","v":0.35},{"m":"Rclusterpp","t":"Lambda","p":"G/D T","v":0.02},{"m":"Rclusterpp","t":"Lambda","p":"Kappa","v":0.2},{"m":"Rclusterpp","t":"Lambda","p":"Lambda","v":0.15},{"m":"Rclusterpp","t":"Lambda","p":"NK","v":0.05},{"m":"Rclusterpp","t":"Lambda","p":"Not Lymph","v":0.03},
{"m":"Rclusterpp","t":"NK","p":"CD4 +","v":0.35},{"m":"Rclusterpp","t":"NK","p":"Dual +","v":0.03},{"m":"Rclusterpp","t":"NK","p":"Dual -","v":0.03},{"m":"Rclusterpp","t":"NK","p":"CD8 +","v":0.38},{"m":"Rclusterpp","t":"NK","p":"G/D T","v":0.02},{"m":"Rclusterpp","t":"NK","p":"Kappa","v":0.22},{"m":"Rclusterpp","t":"NK","p":"Lambda","v":0.1},{"m":"Rclusterpp","t":"NK","p":"NK","v":0.05},{"m":"Rclusterpp","t":"NK","p":"Not Lymph","v":0.03},
{"m":"Rclusterpp","t":"Not Lymph","p":"CD4 +","v":0.15},{"m":"Rclusterpp","t":"Not Lymph","p":"Dual +","v":0.1},{"m":"Rclusterpp","t":"Not Lymph","p":"Dual -","v":0.08},{"m":"Rclusterpp","t":"Not Lymph","p":"CD8 +","v":0.12},{"m":"Rclusterpp","t":"Not Lymph","p":"G/D T","v":0.1},{"m":"Rclusterpp","t":"Not Lymph","p":"Kappa","v":0.1},{"m":"Rclusterpp","t":"Not Lymph","p":"Lambda","v":0.08},{"m":"Rclusterpp","t":"Not Lymph","p":"NK","v":0.05},{"m":"Rclusterpp","t":"Not Lymph","p":"Not Lymph","v":0.3},

{"m":"samSPECTRAL","t":"CD4 +","p":"CD4 +","v":0.12},{"m":"samSPECTRAL","t":"CD4 +","p":"Dual +","v":0},{"m":"samSPECTRAL","t":"CD4 +","p":"Dual -","v":0},{"m":"samSPECTRAL","t":"CD4 +","p":"CD8 +","v":0},{"m":"samSPECTRAL","t":"CD4 +","p":"G/D T","v":0},{"m":"samSPECTRAL","t":"CD4 +","p":"Kappa","v":0.2},{"m":"samSPECTRAL","t":"CD4 +","p":"Lambda","v":0.12},{"m":"samSPECTRAL","t":"CD4 +","p":"NK","v":0},{"m":"samSPECTRAL","t":"CD4 +","p":"Not Lymph","v":0},
{"m":"samSPECTRAL","t":"Dual +","p":"CD4 +","v":0.15},{"m":"samSPECTRAL","t":"Dual +","p":"Dual +","v":0},{"m":"samSPECTRAL","t":"Dual +","p":"Dual -","v":0},{"m":"samSPECTRAL","t":"Dual +","p":"CD8 +","v":0},{"m":"samSPECTRAL","t":"Dual +","p":"G/D T","v":0},{"m":"samSPECTRAL","t":"Dual +","p":"Kappa","v":0.3},{"m":"samSPECTRAL","t":"Dual +","p":"Lambda","v":0.15},{"m":"samSPECTRAL","t":"Dual +","p":"NK","v":0},{"m":"samSPECTRAL","t":"Dual +","p":"Not Lymph","v":0.02},
{"m":"samSPECTRAL","t":"Dual -","p":"CD4 +","v":0.05},{"m":"samSPECTRAL","t":"Dual -","p":"Dual +","v":0},{"m":"samSPECTRAL","t":"Dual -","p":"Dual -","v":0},{"m":"samSPECTRAL","t":"Dual -","p":"CD8 +","v":0},{"m":"samSPECTRAL","t":"Dual -","p":"G/D T","v":0},{"m":"samSPECTRAL","t":"Dual -","p":"Kappa","v":0.25},{"m":"samSPECTRAL","t":"Dual -","p":"Lambda","v":0.15},{"m":"samSPECTRAL","t":"Dual -","p":"NK","v":0},{"m":"samSPECTRAL","t":"Dual -","p":"Not Lymph","v":0.05},
{"m":"samSPECTRAL","t":"CD8 +","p":"CD4 +","v":0.05},{"m":"samSPECTRAL","t":"CD8 +","p":"Dual +","v":0},{"m":"samSPECTRAL","t":"CD8 +","p":"Dual -","v":0},{"m":"samSPECTRAL","t":"CD8 +","p":"CD8 +","v":0.05},{"m":"samSPECTRAL","t":"CD8 +","p":"G/D T","v":0},{"m":"samSPECTRAL","t":"CD8 +","p":"Kappa","v":0.3},{"m":"samSPECTRAL","t":"CD8 +","p":"Lambda","v":0.15},{"m":"samSPECTRAL","t":"CD8 +","p":"NK","v":0},{"m":"samSPECTRAL","t":"CD8 +","p":"Not Lymph","v":0.05},
{"m":"samSPECTRAL","t":"G/D T","p":"CD4 +","v":0.03},{"m":"samSPECTRAL","t":"G/D T","p":"Dual +","v":0},{"m":"samSPECTRAL","t":"G/D T","p":"Dual -","v":0},{"m":"samSPECTRAL","t":"G/D T","p":"CD8 +","v":0.03},{"m":"samSPECTRAL","t":"G/D T","p":"G/D T","v":0},{"m":"samSPECTRAL","t":"G/D T","p":"Kappa","v":0.4},{"m":"samSPECTRAL","t":"G/D T","p":"Lambda","v":0.2},{"m":"samSPECTRAL","t":"G/D T","p":"NK","v":0},{"m":"samSPECTRAL","t":"G/D T","p":"Not Lymph","v":0.1},
{"m":"samSPECTRAL","t":"Kappa","p":"CD4 +","v":0},{"m":"samSPECTRAL","t":"Kappa","p":"Dual +","v":0},{"m":"samSPECTRAL","t":"Kappa","p":"Dual -","v":0},{"m":"samSPECTRAL","t":"Kappa","p":"CD8 +","v":0},{"m":"samSPECTRAL","t":"Kappa","p":"G/D T","v":0},{"m":"samSPECTRAL","t":"Kappa","p":"Kappa","v":0.6},{"m":"samSPECTRAL","t":"Kappa","p":"Lambda","v":0.15},{"m":"samSPECTRAL","t":"Kappa","p":"NK","v":0},{"m":"samSPECTRAL","t":"Kappa","p":"Not Lymph","v":0.05},
{"m":"samSPECTRAL","t":"Lambda","p":"CD4 +","v":0},{"m":"samSPECTRAL","t":"Lambda","p":"Dual +","v":0},{"m":"samSPECTRAL","t":"Lambda","p":"Dual -","v":0},{"m":"samSPECTRAL","t":"Lambda","p":"CD8 +","v":0},{"m":"samSPECTRAL","t":"Lambda","p":"G/D T","v":0},{"m":"samSPECTRAL","t":"Lambda","p":"Kappa","v":0.9},{"m":"samSPECTRAL","t":"Lambda","p":"Lambda","v":0.1},{"m":"samSPECTRAL","t":"Lambda","p":"NK","v":0},{"m":"samSPECTRAL","t":"Lambda","p":"Not Lymph","v":0},
{"m":"samSPECTRAL","t":"NK","p":"CD4 +","v":0},{"m":"samSPECTRAL","t":"NK","p":"Dual +","v":0},{"m":"samSPECTRAL","t":"NK","p":"Dual -","v":0},{"m":"samSPECTRAL","t":"NK","p":"CD8 +","v":0},{"m":"samSPECTRAL","t":"NK","p":"G/D T","v":0},{"m":"samSPECTRAL","t":"NK","p":"Kappa","v":0.45},{"m":"samSPECTRAL","t":"NK","p":"Lambda","v":0.1},{"m":"samSPECTRAL","t":"NK","p":"NK","v":0.2},{"m":"samSPECTRAL","t":"NK","p":"Not Lymph","v":0.3},
{"m":"samSPECTRAL","t":"Not Lymph","p":"CD4 +","v":0},{"m":"samSPECTRAL","t":"Not Lymph","p":"Dual +","v":0},{"m":"samSPECTRAL","t":"Not Lymph","p":"Dual -","v":0},{"m":"samSPECTRAL","t":"Not Lymph","p":"CD8 +","v":0},{"m":"samSPECTRAL","t":"Not Lymph","p":"G/D T","v":0},{"m":"samSPECTRAL","t":"Not Lymph","p":"Kappa","v":0.1},{"m":"samSPECTRAL","t":"Not Lymph","p":"Lambda","v":0.2},{"m":"samSPECTRAL","t":"Not Lymph","p":"NK","v":0},{"m":"samSPECTRAL","t":"Not Lymph","p":"Not Lymph","v":0.7}
]},
"facet":{"field":"m","type":"nominal","sort":["CART-BTW","CART-NB","RF-BTW","RF-NB","XGB-BTW","XGB-NB","cytometree","FLOCK","FlowGrid","flowMeans","flowSOM","Rclusterpp","samSPECTRAL"],"header":{"title":null,"labelFontSize":5.5,"labelPadding":1,"labelFont":"Liberation Sans","labelFontWeight":"normal","labelColor":"#333333"}},
"columns":4,
"spacing":{"column":4,"row":9},
"resolve":{"axis":{"x":"independent","y":"independent"}},
"spec":{
"width":66,"height":66,
"mark":{"type":"rect"},
"encoding":{
"x":{"field":"p","type":"nominal","sort":["CD4 +","Dual +","Dual -","CD8 +","G/D T","Kappa","Lambda","NK","Not Lymph"],"axis":{"title":null,"labelAngle":-90}},
"y":{"field":"t","type":"nominal","sort":["CD4 +","Dual +","Dual -","CD8 +","G/D T","Kappa","Lambda","NK","Not Lymph"],"axis":{"title":null}},
"color":{"field":"v","type":"quantitative","scale":{"domain":[0,0.1,0.2,0.3,0.4,0.5,0.6,0.7,0.8,0.9,1],"range":["#DEF5E5","#A0DFB9","#60CEAC","#3AB3AC","#3497A9","#357BA2","#3A5E9C","#40498E","#3E356B","#2B1C35","#0B0405"]},"legend":{"orient":"none","legendX":376,"legendY":122,"direction":"vertical","gradientLength":181,"gradientThickness":12,"gradientStrokeWidth":0,"title":null,"values":[0,0.2,0.4,0.6,0.8,1],"format":".1f","labelFontSize":5.5,"labelFont":"Liberation Sans","labelOverlap":false,"labelOffset":2,"labelColor":"#262626"}}
}
},
"config":{
"view":{"stroke":null},
"axis":{"labelFontSize":5.5,"labelFont":"Liberation Sans","tickSize":2,"domain":false,"labelPadding":1,"tickColor":"#262626","labelColor":"#262626","grid":false}
}
}
